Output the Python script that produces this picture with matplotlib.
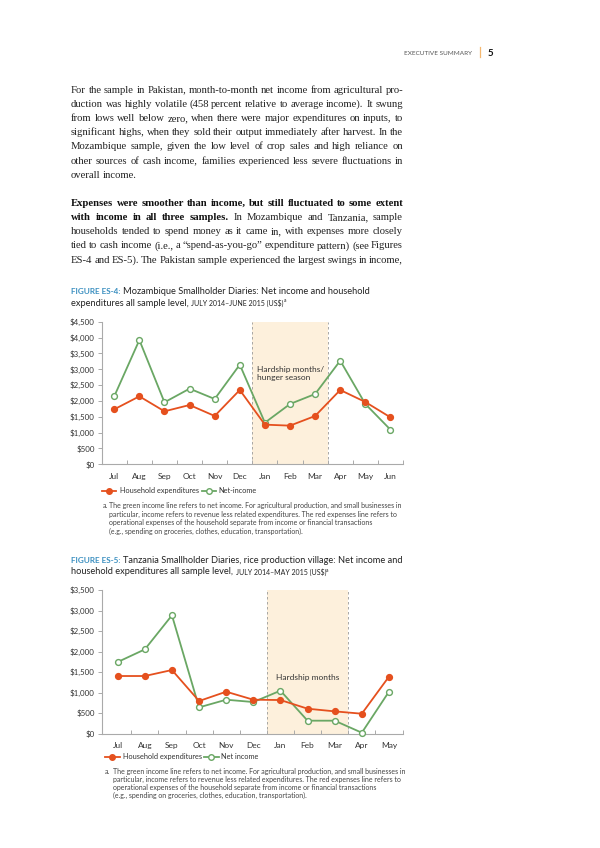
import matplotlib
matplotlib.use("Agg")
import matplotlib.pyplot as plt
from matplotlib.transforms import Affine2D
from matplotlib.lines import Line2D

# ---------------- data ----------------
months1 = ["Jul", "Aug", "Sep", "Oct", "Nov", "Dec", "Jan", "Feb", "Mar", "Apr", "May", "Jun"]
moz_exp = [1735, 2145, 1672, 1871, 1525, 2345, 1251, 1220, 1525, 2345, 1966, 1482]
moz_inc = [2145, 3922, 1956, 2387, 2061, 3144, 1314, 1903, 2218, 3270, 1903, 1093]
yticks1 = [0, 500, 1000, 1500, 2000, 2500, 3000, 3500, 4000, 4500]

months2 = ["Jul", "Aug", "Sep", "Oct", "Nov", "Dec", "Jan", "Feb", "Mar", "Apr", "May"]
tz_exp = [1405, 1405, 1551, 796, 1023, 828, 820, 609, 544, 487, 1389]
tz_inc = [1746, 2054, 2883, 641, 828, 771, 1048, 317, 317, 24, 1023]
yticks2 = [0, 500, 1000, 1500, 2000, 2500, 3000, 3500]

hardship_start, hardship_end = 5.5, 8.5

RED = "#e5501e"
GREEN = "#6aa764"
BLUE = "#3a8fc0"
SHADE = "#fdf0dc"
GREY = "#9a9a9a"
TXT = "#333333"
SANS = ["Lato", "DejaVu Sans"]
SERIF = ["Liberation Serif", "DejaVu Serif"]

W, H = 600, 848
fig = plt.figure(figsize=(W / 100, H / 100), dpi=100)
fig.patch.set_facecolor("white")
renderer = fig.canvas.get_renderer()
PX = Affine2D().scale(1, -1).translate(0, H)


def width_of(t):
    return t.get_window_extent(renderer).width


def measure(s, props):
    t = fig.text(0, 0, s, transform=PX, **props)
    w = width_of(t)
    t.remove()
    return w


def runs(x, y, parts, gap=0.0):
    for s, props in parts:
        t = fig.text(x, y, s, transform=PX, va="baseline", ha="left", **props)
        x += width_of(t) + gap
    return x


body = dict(family=SERIF, color="#222222")
bold = dict(family=SERIF, color="#111111", weight="bold")


def layout(words, size, x0, x1, last):
    props = [dict(p, size=size) for _, p in words]
    ws = [measure(w, p) for (w, _), p in zip(words, props)]
    spw = measure("n n", props[-1]) - measure("nn", props[-1])
    gap = spw if (last or len(ws) == 1) else (x1 - x0 - sum(ws)) / (len(ws) - 1)
    return props, ws, gap, spw


def words_of(s, p):
    return [(w, p) for w in s.split(" ")]


# header
runs(404, 55, [("EXECUTIVE SUMMARY", dict(family=SANS, size=4.55, color="#555555"))])
fig.add_artist(Line2D([479.5, 479.5], [H - 47, H - 57], transform=None, color="#f5b870", lw=0.9))
fig.text(487.5, 55.5, "5", transform=PX, va="baseline", ha="left", family=SANS, size=7.0,
         weight="bold", color="#111111")

# body text
XL, XR = 71, 403
p1 = [
    "For the sample in Pakistan, month-to-month net income from agricultural pro-",
    "duction was highly volatile (458 percent relative to average income). It swung",
    "from lows well below zero, when there were major expenditures on inputs, to",
    "significant highs, when they sold their output immediately after harvest. In the",
    "Mozambique sample, given the low level of crop sales and high reliance on",
    "other sources of cash income, families experienced less severe fluctuations in",
    "overall income.",
]
p2 = [
    words_of("Expenses were smoother than income, but still fluctuated to some extent", bold),
    words_of("with income in all three samples.", bold) + words_of("In Mozambique and Tanzania, sample", body),
    words_of("households tended to spend money as it came in, with expenses more closely", body),
    words_of("tied to cash income (i.e., a \u201cspend-as-you-go\u201d expenditure pattern) (see Figures", body),
    words_of("ES-4 and ES-5). The Pakistan sample experienced the largest swings in income,", body),
]
lines = []
for i, line in enumerate(p1):
    lines.append((92.7 + i * 14.17, words_of(line, body), i == len(p1) - 1))
for i, ws in enumerate(p2):
    lines.append((205.8 + i * 14.2, ws, False))

size = 8.6
while size > 6:
    ok = True
    for y, ws, last in lines:
        if last:
            continue
        _, _, gap, spw = layout(ws, size, XL, XR, last)
        if gap < 0.6 * spw:
            ok = False
            break
    if ok:
        break
    size -= 0.1

for y, ws, last in lines:
    props, wds, gap, _ = layout(ws, size, XL, XR, last)
    x = XL
    for (w, _), p, wd in zip(ws, props, wds):
        fig.text(x, y, w, transform=PX, va="baseline", ha="left", **p)
        x += wd + gap

# figure titles
tmain = dict(family=SANS, size=6.7, color="#222222")
tblue = dict(family=SANS, size=5.9, color=BLUE, weight="bold")
tsmall = dict(family=SANS, size=5.0, color="#222222")
tsup = dict(family=SANS, size=3.6, color="#222222")


def title(x, y1, y2, label, line1, line2, small):
    xe = runs(x, y1, [(label, tblue)])
    fig.text(xe + 2.2, y1, line1, transform=PX, va="baseline", ha="left", **tmain)
    xe = runs(x, y2, [(line2, tmain)])
    xe = runs(xe + 2.5, y2, [(small, tsmall)])
    fig.text(xe + 0.3, y2 - 3, "a", transform=PX, va="baseline", ha="left", **tsup)


title(71, 294, 305.5, "FIGURE ES-4:", "Mozambique Smallholder Diaries: Net income and household",
      "expenditures all sample level,", "JULY 2014\u2013JUNE 2015 (US$)")
title(71, 563, 574.5, "FIGURE ES-5:", "Tanzania Smallholder Diaries, rice production village: Net income and",
      "household expenditures all sample level,", "JULY 2014\u2013MAY 2015 (US$)")


def chart(rect, months, exp, inc, yticks, xlim, hard_txt, hard_xy, hard_ha):
    ax = fig.add_axes(rect)
    x = list(range(len(months)))
    ax.axvspan(hardship_start, hardship_end, color=SHADE, zorder=0, lw=0)
    for xv in (hardship_start, hardship_end):
        ax.axvline(xv, color=GREY, lw=0.6, ls=(0, (3, 3)), zorder=1)
    ax.plot(x, inc, color=GREEN, lw=1.3, marker="o", ms=4.2, mfc="white", mec=GREEN, mew=1.0,
            zorder=3, clip_on=False)
    ax.plot(x, exp, color=RED, lw=1.3, marker="o", ms=4.2, mfc=RED, mec=RED, zorder=4, clip_on=False)
    ax.set_xlim(*xlim)
    ax.set_ylim(yticks[0], yticks[-1])
    ax.set_yticks(yticks)
    ax.set_yticklabels(["${:,}".format(v) for v in yticks])
    bounds = [i + 0.5 for i in range(len(months))]
    ax.set_xticks(bounds)
    ax.set_xticklabels([])
    ax.set_xticks(x, minor=True)
    ax.set_xticklabels(months, minor=True)
    ax.tick_params(axis="x", which="major", direction="in", length=3, color="#aaaaaa", width=0.7)
    ax.tick_params(axis="x", which="minor", length=0, pad=6, labelsize=6.0, labelcolor=TXT)
    ax.tick_params(axis="y", direction="out", length=3, color="#aaaaaa", width=0.7, pad=2,
                   labelsize=5.7, labelcolor=TXT)
    for lab in ax.get_xticklabels(minor=True) + ax.get_yticklabels():
        lab.set_family(SANS)
    for s in ("top", "right"):
        ax.spines[s].set_visible(False)
    for s in ("left", "bottom"):
        ax.spines[s].set_color("#aaaaaa")
        ax.spines[s].set_linewidth(0.8)
    ax.text(hard_xy[0], hard_xy[1], hard_txt, ha=hard_ha, va="center", family=SANS, size=6.0,
            color="#333333", linespacing=1.2, zorder=5)
    return ax


chart([101.7 / W, (H - 464.3) / H, (403 - 101.7) / W, (464.3 - 321.7) / H],
      months1, moz_exp, moz_inc, yticks1, (-0.5, 11.5),
      "Hardship months/\nhunger season", (5.69, 2870), "left")
chart([101.7 / W, (H - 733.7) / H, (402.5 - 101.7) / W, (733.7 - 590) / H],
      months2, tz_exp, tz_inc, yticks2, (-0.59, 10.5),
      "Hardship months", (7.0, 1374), "center")


def legend(y, xr, xg, xg_text, inc_label):
    leg = dict(family=SANS, size=5.3, color="#333333")
    fig.add_artist(Line2D([xr, xr + 14.5], [H - y, H - y], transform=None, color=RED, lw=1.3))
    fig.add_artist(Line2D([xr + 7.2], [H - y], transform=None, color=RED, marker="o", ms=4,
                          mfc=RED, mec=RED))
    fig.text(xr + 18, y + 2.0, "Household expenditures", transform=PX, va="baseline", ha="left", **leg)
    fig.add_artist(Line2D([xg, xg + 14.5], [H - y, H - y], transform=None, color=GREEN, lw=1.3))
    fig.add_artist(Line2D([xg + 7.2], [H - y], transform=None, color=GREEN, marker="o", ms=4,
                          mfc="white", mec=GREEN, mew=1.0))
    fig.text(xg_text, y + 2.0, inc_label, transform=PX, va="baseline", ha="left", **leg)


legend(491, 101.7, 201.7, 218.5, "Net-income")
legend(757, 105, 204, 221, "Net income")

notes = [
    "The green income line refers to net income. For agricultural production, and small businesses in",
    "particular, income refers to revenue less related expenditures. The red expenses line refers to",
    "operational expenses of the household separate from income or financial transactions",
    "(e.g., spending on groceries, clothes, education, transportation).",
]


def note_block(xa, xi, ys):
    nd = dict(family=SANS, size=5.05, color="#444444")
    fig.text(xa, ys[0] + 2, "a.", transform=PX, va="baseline", ha="left", **nd)
    for line, yy in zip(notes, ys):
        fig.text(xi, yy + 2, line, transform=PX, va="baseline", ha="left", **nd)


note_block(102.7, 109.3, [506, 514.5, 523, 531.5])
note_block(105, 113.3, [772.3, 780.3, 788.3, 796.3])

fig.savefig("out.png", dpi=100)
